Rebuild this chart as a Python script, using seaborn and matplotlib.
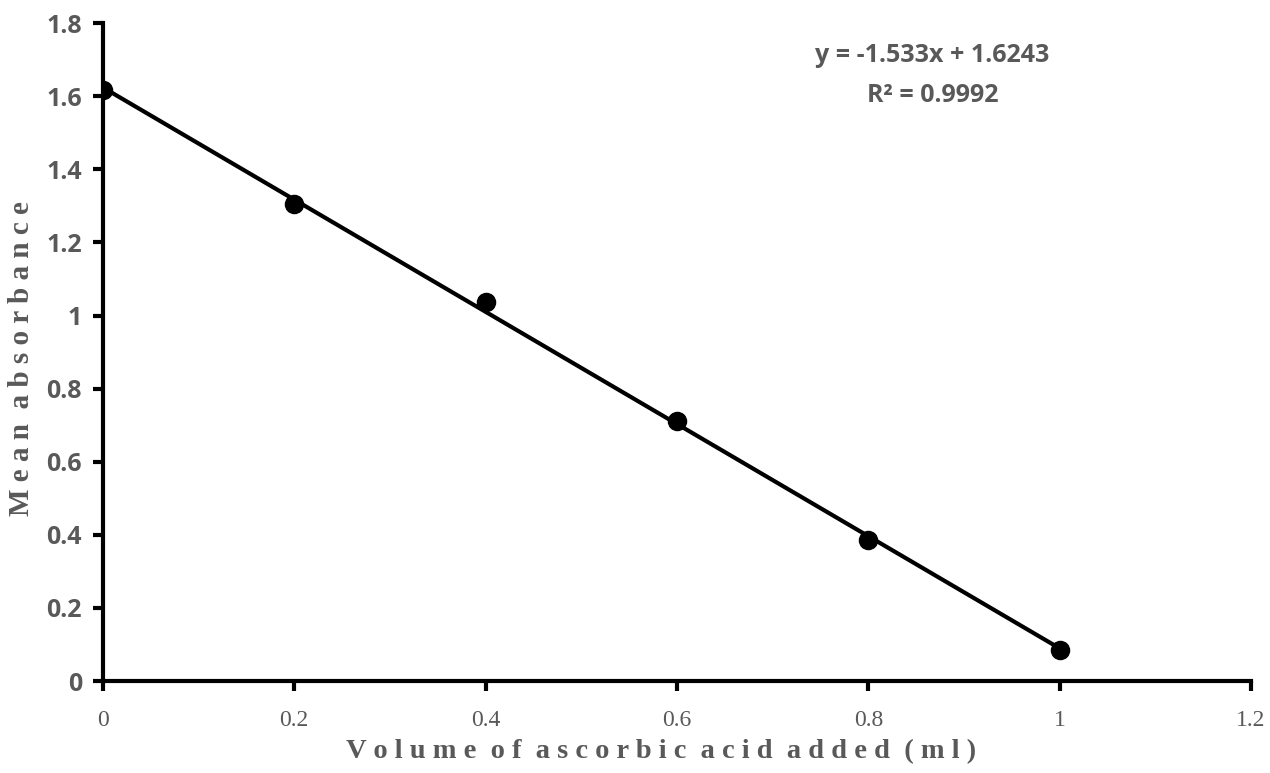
import matplotlib
matplotlib.use("Agg")
import matplotlib.pyplot as plt
import seaborn as sns
import pandas as pd

volume_ml = [0.0, 0.2, 0.4, 0.6, 0.8, 1.0]
mean_absorbance = [1.617, 1.305, 1.037, 0.711, 0.386, 0.085]
x_ticks = [0, 0.2, 0.4, 0.6, 0.8, 1, 1.2]
x_tick_labels = ["0", "0.2", "0.4", "0.6", "0.8", "1", "1.2"]
y_ticks = [0, 0.2, 0.4, 0.6, 0.8, 1, 1.2, 1.4, 1.6, 1.8]
y_tick_labels = ["0", "0.2", "0.4", "0.6", "0.8", "1", "1.2", "1.4", "1.6", "1.8"]
equation_text = "y = -1.533x + 1.6243"
r2_text = "R² = 0.9992"
x_label = "Volume of ascorbic acid added (ml)"
y_label = "Mean absorbance"

sns.set_style("white")
df = pd.DataFrame({"x": volume_ml, "y": mean_absorbance})

fig = plt.figure(figsize=(12.7, 7.73), dpi=100)
ax = fig.add_axes([0.081, 0.119, 0.904, 0.851])

sns.regplot(data=df, x="x", y="y", ax=ax, ci=None, truncate=True,
            scatter_kws=dict(s=170, color="black", alpha=1, zorder=3, edgecolor="black"),
            line_kws=dict(color="black", lw=3))

ax.set_xlim(0, 1.2)
ax.set_ylim(0, 1.8)
ax.set_xticks(x_ticks)
ax.set_xticklabels(x_tick_labels, family="Liberation Serif", fontsize=17, color="#595959")
ax.set_yticks(y_ticks)
ax.set_yticklabels(y_tick_labels, family="Open Sans", fontweight="bold", fontsize=18, color="#595959")

def spaced(s):
    return "  ".join(" ".join(w) for w in s.split(" "))

ax.set_xlabel(spaced(x_label), family="Liberation Serif", fontweight="bold",
              fontsize=20.5, color="#595959", labelpad=6)
ax.xaxis.label.set_x(0.486)
ax.set_ylabel(spaced(y_label), family="Liberation Serif", fontweight="bold",
              fontsize=21, color="#595959", labelpad=8)
ax.yaxis.label.set_y(0.49)

for s in ["top", "right"]:
    ax.spines[s].set_visible(False)
for s in ["left", "bottom"]:
    ax.spines[s].set_color("black")
    ax.spines[s].set_linewidth(3)
ax.tick_params(axis="both", direction="out", length=7, width=3, color="black", left=True, bottom=True)
ax.tick_params(axis="x", pad=14)
ax.tick_params(axis="y", pad=8)

ax.text(0.867, 1.712, equation_text, ha="center", va="center", family="Open Sans",
        fontweight="bold", fontsize=18, color="#595959")
ax.text(0.867, 1.603, r2_text, ha="center", va="center", family="Open Sans",
        fontweight="bold", fontsize=18, color="#595959")

fig.savefig("out.png", dpi=100)
